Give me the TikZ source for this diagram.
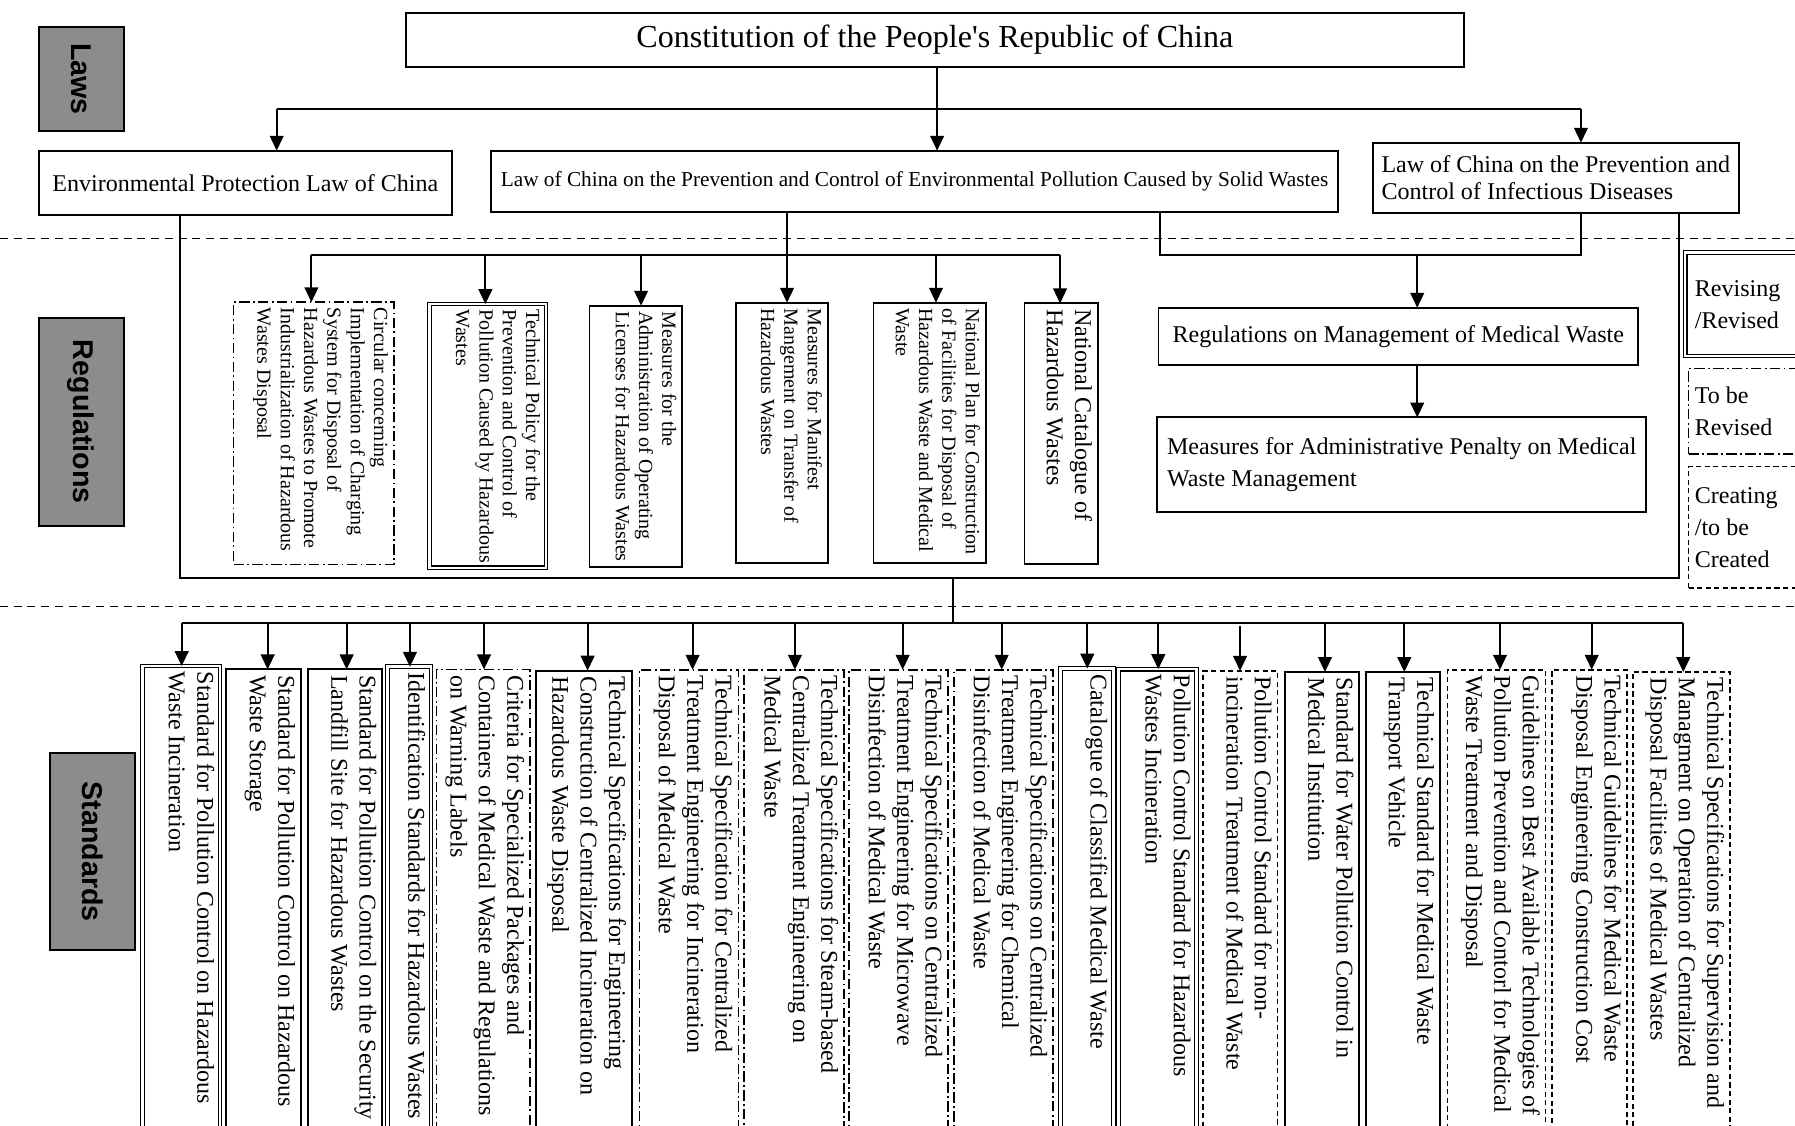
\documentclass[tikz,border=0pt]{standalone}
\usepackage{fontspec}
\setmainfont{Liberation Serif}
\newfontfamily\rawserif{Liberation Serif}
\newfontfamily\labelfont{Liberation Sans}
\usetikzlibrary{arrows.meta}
\tikzset{
 every node/.style={outer sep=0pt},
 ln/.style={line width=1.6pt},
 arr/.style={line width=1.6pt, -{Triangle[length=13pt,width=12pt]}},
 sepline/.style={line width=1.3pt, dash pattern=on 7pt off 5pt},
 sbox/.style={draw, line width=1.6pt},
 dbox/.style={draw, line width=1pt, double, double distance=2.2pt},
 ddbox/.style={draw, line width=1.5pt, dash pattern=on 9pt off 3pt on 1.5pt off 3pt},
 dsbox/.style={draw, line width=1.5pt, dash pattern=on 4.5pt off 3pt},
 graybox/.style={draw, line width=1.6pt, fill={rgb,255:red,140;green,140;blue,140}, inner sep=0pt},
 grayt/.style={font=\labelfont\bfseries\fontsize{25}{30}\selectfont, rotate=-90, inner sep=0pt},
 vt/.style={rotate=-90, anchor=north west, align=left, inner sep=5pt, font=\fontsize{21}{24.8}\selectfont},
 vts/.style={vt, font=\fontsize{17.5}{20.4}\selectfont},
 lgt/.style={anchor=west, align=left, inner sep=0pt, font=\fontsize{21}{28}\selectfont},
}
\newcommand{\mkbox}[8]{%
 \node[#2, anchor=north west, minimum width={#4-#3}, minimum height={#6-#5}, inner sep=0pt] (#1) at (#3,#5) {};
 \node[#7] (#1t) at (#1.north east) {#8};}
\begin{document}
\begin{tikzpicture}[x=1pt,y=-1pt]
\useasboundingbox (0,0) rectangle (1568,983);
\fill[white] (0,0) rectangle (1568,983);
% separators
\draw[sepline] (0,208.2) -- (1568,208.2);
\draw[sepline] (0,530) -- (1568,530);
% level labels
\node[graybox, anchor=north west, minimum width=74, minimum height=91.1] (laws) at (34,23.3) {};
\node[grayt] (lawst) at (laws.center) {Laws};
\node[graybox, anchor=north west, minimum width=74, minimum height=182] (regs) at (34,277.5) {};
\node[grayt] (regst) at (regs.center) {Regulations};
\node[graybox, anchor=north west, minimum width=74, minimum height=172] (stds) at (44,658) {};
\node[grayt] (stdst) at (stds.center) {Standards};
% laws
\node[sbox, anchor=north west, minimum width=924.3, minimum height=46.5, inner sep=0pt, font=\rawserif\fontsize{28}{32}\selectfont] (con) at (354.5,11.7) {Constitution of the People's Republic of China};
\node[sbox, anchor=north west, minimum width=360.6, minimum height=56.2, inner sep=0pt, font=\fontsize{21}{24}\selectfont] (env) at (34,131.6) {Environmental Protection Law of China};
\node[sbox, anchor=north west, minimum width=740.3, minimum height=53.3, inner sep=0pt, font=\fontsize{18.6}{22}\selectfont] (solid) at (428.7,131.6) {Law of China on the Prevention and Control of Environmental Pollution Caused by Solid Wastes};
\node[sbox, anchor=north west, minimum width=320, minimum height=61.8, inner sep=0pt, align=left, font=\fontsize{21}{23.5}\selectfont] (inf) at (1199,124.6) {Law of China on the Prevention and\\Control of Infectious Diseases};
\coordinate (h1) at (241.7,95.5);
\coordinate (h2) at (1381,95.5);
\coordinate (cx) at (818.6,95.5);
\draw[arr] (con.south -| cx) -- (cx |- solid.north);
\draw[ln] (h1) -- (h2);
\draw[arr] (h1) -- (h1 |- env.north);
\draw[arr] (h2) -- (h2 |- inf.north);
% bracket to standards
\coordinate (bl) at (157,505);
\coordinate (br) at (1466.7,505);
\draw[ln] (env.south -| bl) -- (bl) -- (br) -- (inf.south -| br);
% regulations
\mkbox{r1}{ddbox}{204}{344}{264}{493}{vts}{Circular concerning\\Implementation of Charging\\System for Disposal of\\Hazardous Wastes to Promote\\Industrialization of Hazardous\\Wastes Disposal}
\mkbox{r2}{dbox}{375}{477}{265.6}{496}{vts}{Technical Policy for the\\Prevention and Control of\\Pollution Caused by Hazardous\\Wastes}
\mkbox{r3}{sbox}{515}{596}{267}{495}{vts}{Measures for the\\Administration of Operating\\Licenses for Hazardous Wastes}
\mkbox{r4}{sbox}{643}{723}{264.4}{492}{vts}{Measures for Manifest\\Mangement on Transfer of\\Hazardous Wastes}
\mkbox{r5}{sbox}{763}{861}{264.4}{492}{vts}{National Plan for Construction\\of Facilities for Disposal of\\Hazardous Waste and Medical\\Waste}
\mkbox{r6}{sbox}{895}{959}{265}{493}{vt}{National Catalogue of\\Hazardous Wastes}
\foreach \n/\x in {1/272,2/424,3/560,4/687.5,5/817.6,6/926}{\coordinate (rb\n) at (\x,222.7);}
\draw[ln] (solid.south -| rb4) -- (rb4);
\draw[ln] (rb1) -- (rb6);
\foreach \n in {1,...,6}{\draw[arr] (rb\n) -- (rb\n |- r\n.north);}
% medical waste regulations
\node[sbox, anchor=north west, minimum width=419, minimum height=50, inner sep=0pt, font=\fontsize{21}{24}\selectfont] (med) at (1012,268.8) {Regulations on Management of Medical Waste};
\node[sbox, anchor=north west, minimum width=427, minimum height=82.4, inner sep=0pt, align=left, font=\fontsize{21}{27.7}\selectfont] (pen) at (1011,364.6) {Measures for Administrative Penalty on Medical\\Waste Management};
\coordinate (m1) at (1013,222.7);
\coordinate (m2) at (1381,222.7);
\coordinate (m3) at (1238,222.7);
\draw[ln] (solid.south -| m1) -- (m1) -- (m2) -- (inf.south -| m2);
\draw[arr] (m3) -- (m3 |- med.north);
\draw[arr] (med.south -| m3) -- (pen.north -| m3);
% legend
\node[dbox, anchor=north west, minimum width=110, minimum height=90.3, inner sep=0pt] (lg1) at (1472,220.7) {};
\node[lgt] (lg1t) at ([xshift=8.5pt]lg1.west) {Revising\\/Revised};
\node[ddbox, anchor=north west, minimum width=110, minimum height=74.6, inner sep=0pt] (lg2) at (1475,322) {};
\node[lgt] (lg2t) at ([xshift=5.5pt]lg2.west) {To be\\Revised};
\node[dsbox, anchor=north west, minimum width=110, minimum height=106.1, inner sep=0pt] (lg3) at (1475,407.6) {};
\node[lgt] (lg3t) at ([xshift=5.5pt]lg3.west) {Creating\\/to be\\Created};
% standards
\mkbox{s1}{dbox}{124.3}{192.2}{581.8}{1000}{vt}{Standard for Pollution Control on Hazardous\\Waste Incineration}
\mkbox{s2}{sbox}{197.4}{262.9}{584.7}{1000}{vt}{Standard for Pollution Control on Hazardous\\Waste Storage}
\mkbox{s3}{sbox}{268.8}{334}{584.7}{1000}{vt}{Standard for Pollution Control on the Security\\Landfill Site for Hazardous Wastes}
\mkbox{s4}{dbox}{338.6}{376.5}{582.4}{1000}{vt}{Identification Standards for Hazardous Wastes}
\mkbox{s5}{ddbox}{381.4}{463}{584.7}{1000}{vt}{Criteria for Specialized Packages and\\Containers of Medical Waste and Regulations\\on Warning Labels}
\mkbox{s6}{sbox}{468}{551.8}{585.8}{1000}{vt}{Technical Specifications for Engineering\\Construction of Centralized Incineration on\\Hazardous Waste Disposal}
\mkbox{s7}{ddbox}{558.5}{645}{585}{1000}{vt}{Technical Specification for Centralized\\Treatment Engineering for Incineration\\Disposal of Medical Waste}
\mkbox{s8}{ddbox}{650}{737.3}{585}{1000}{vt}{Technical Specifications for Steam-based\\Centralized Treatment Engineering on\\Medical Waste}
\mkbox{s9}{ddbox}{741.9}{828.4}{585}{1000}{vt}{Technical Specifications on Centralized\\Treatment Engineering for Microwave\\Disinfection of Medical Waste}
\mkbox{s10}{ddbox}{833.6}{920}{585}{1000}{vt}{Technical Specifications on Centralized\\Treatment Engineering for Chemical\\Disinfection of Medical Waste}
\mkbox{s11}{dbox}{926.5}{972.5}{584}{1000}{vt}{Catalogue of Classified Medical Waste}
\mkbox{s12}{dbox}{976.9}{1045.3}{584.5}{1000}{vt}{Pollution Control Standard for Hazardous\\Wastes Incineration}
\mkbox{s13}{dsbox}{1051.1}{1116}{586}{1000}{vt}{Pollution Control Standard for non-\\incineration Treatment of Medical Waste}
\mkbox{s14}{sbox}{1122.5}{1187.4}{587}{1000}{vt}{Standard for Water Pollution Control in\\Medical Institution}
\mkbox{s15}{sbox}{1193.2}{1257.9}{587}{1000}{vt}{Technical Standard for Medical Waste\\Transport Vehicle}
\mkbox{s16}{dsbox}{1264.5}{1350}{585}{1000}{vt}{Guidelines on Best Available Technologies of\\Pollution Prevention and Contorl for Medical\\Waste Treatment and Disposal}
\mkbox{s17}{dsbox}{1356}{1421.5}{585}{1000}{vt}{Technical Guidelines for Medical Waste\\Disposal Engineering Construction Cost}
\mkbox{s18}{dsbox}{1426.2}{1511.2}{587}{1000}{vt}{Technical Specifications for Supervision and\\Managment on Operation of Centralized\\Disposal Facilities of Medical Wastes}
\foreach \n/\x in {1/158.7,2/233.8,3/302.8,4/358.1,5/422.8,6/513.3,7/605,8/694.4,9/788.5,10/875,11/949.8,12/1011.8,13/1083.2,14/1157.4,15/1226.7,16/1310.3,17/1390.4,18/1470.4}{\coordinate (sb\n) at (\x,544);}
\coordinate (tr) at (832.7,505);
\draw[ln] (tr) -- (tr |- sb1);
\draw[ln] (sb1) -- (sb18);
\foreach \n in {1,...,12,14,15,16,17,18}{\draw[arr] (sb\n) -- (sb\n |- s\n.north);}
\draw[arr] ([yshift=-3pt]sb13) -- (sb13 |- s13.north);
\end{tikzpicture}
\end{document}
